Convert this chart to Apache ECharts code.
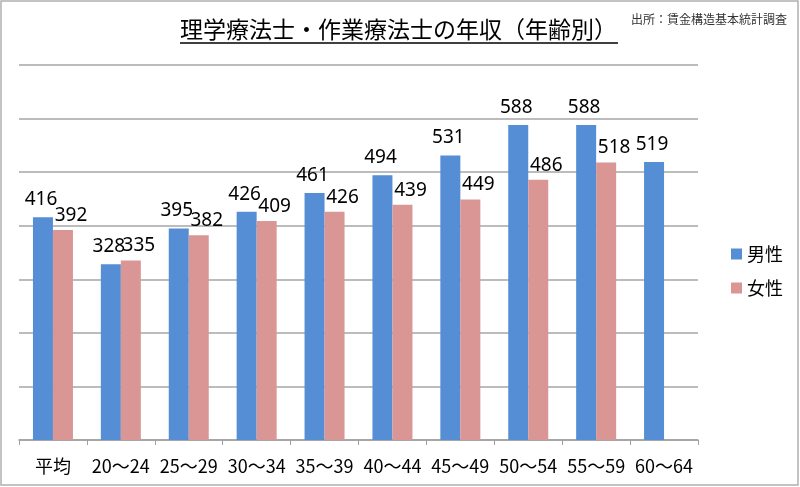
<!DOCTYPE html>
<html>
<head>
<meta charset="utf-8">
<script src="https://cdn.jsdelivr.net/npm/echarts@6/dist/echarts.min.js"></script>
<style>
html,body{margin:0;padding:0;background:#fff;}
#chart{width:800px;height:487px;}
</style>
</head>
<body>
<div id="chart"></div>
<script>
var categories = ['平均', '20～24', '25～29', '30～34', '35～39', '40～44', '45～49', '50～54', '55～59', '60～64'];
var maleValues = [416, 328, 395, 426, 461, 494, 531, 588, 588, 519];
var femaleValues = [392, 335, 382, 409, 426, 439, 449, 486, 518, null];
var seriesNames = ['男性', '女性'];
var titleText = '理学療法士・作業療法士の年収（年齢別）';
var sourceText = '出所：賃金構造基本統計調査';

var CJK = "'Noto Sans CJK JP', 'Noto Sans', sans-serif";
var NUM = "'Noto Sans', 'Liberation Sans', sans-serif";

var chart = echarts.init(document.getElementById('chart'), null, {renderer: 'canvas'});
chart.setOption({
  backgroundColor: '#fff',
  animation: false,
  title: [
    {text: titleText, left: 180, top: 18, padding: 0,
     textStyle: {fontFamily: CJK, fontSize: 23, fontWeight: 'normal', color: '#000'}},
    {text: sourceText, right: 13, top: 13, padding: 0,
     textStyle: {fontFamily: CJK, fontSize: 12, fontWeight: 'normal', color: '#333'}}
  ],
  graphic: [
    {type: 'rect', shape: {x: 1, y: 1, width: 797, height: 484}, style: {fill: 'none', stroke: '#b0b0b0', lineWidth: 1.5}, silent: true},
    {type: 'line', shape: {x1: 180, y1: 43, x2: 618, y2: 43}, style: {stroke: '#000', lineWidth: 1.5}, silent: true}
  ],
  legend: {
    orient: 'vertical', left: 726, top: 240, icon: 'rect',
    itemWidth: 11, itemHeight: 11, itemGap: 16,
    textStyle: {fontFamily: CJK, fontSize: 18, color: '#000'},
    data: seriesNames
  },
  grid: {left: 19, right: 102, top: 65, bottom: 47, containLabel: false},
  xAxis: {
    type: 'category', data: categories,
    axisLine: {lineStyle: {color: '#a0a0a0', width: 1.5}},
    axisTick: {show: true, alignWithLabel: false, length: 5, lineStyle: {color: '#a0a0a0'}},
    axisLabel: {fontFamily: CJK, fontSize: 18, color: '#000', margin: 17, interval: 0}
  },
  yAxis: {
    type: 'value', min: 0, max: 700, interval: 100,
    axisLabel: {show: false}, axisLine: {show: false}, axisTick: {show: false},
    splitLine: {lineStyle: {color: '#a6a6a6', width: 1.5}}
  },
  series: [
    {name: seriesNames[0], type: 'bar', data: maleValues, barWidth: 20, barGap: '0%',
     itemStyle: {color: '#558ED5'},
     label: {show: true, position: 'top', distance: 8, offset: [-2, 0], fontFamily: NUM, fontSize: 19, color: '#000'}},
    {name: seriesNames[1], type: 'bar', data: femaleValues, barWidth: 20, barGap: '0%',
     itemStyle: {color: '#D99694'},
     label: {show: true, position: 'top', distance: 5, offset: [8, 0], fontFamily: NUM, fontSize: 19, color: '#000'}}
  ]
});
</script>
</body>
</html>
